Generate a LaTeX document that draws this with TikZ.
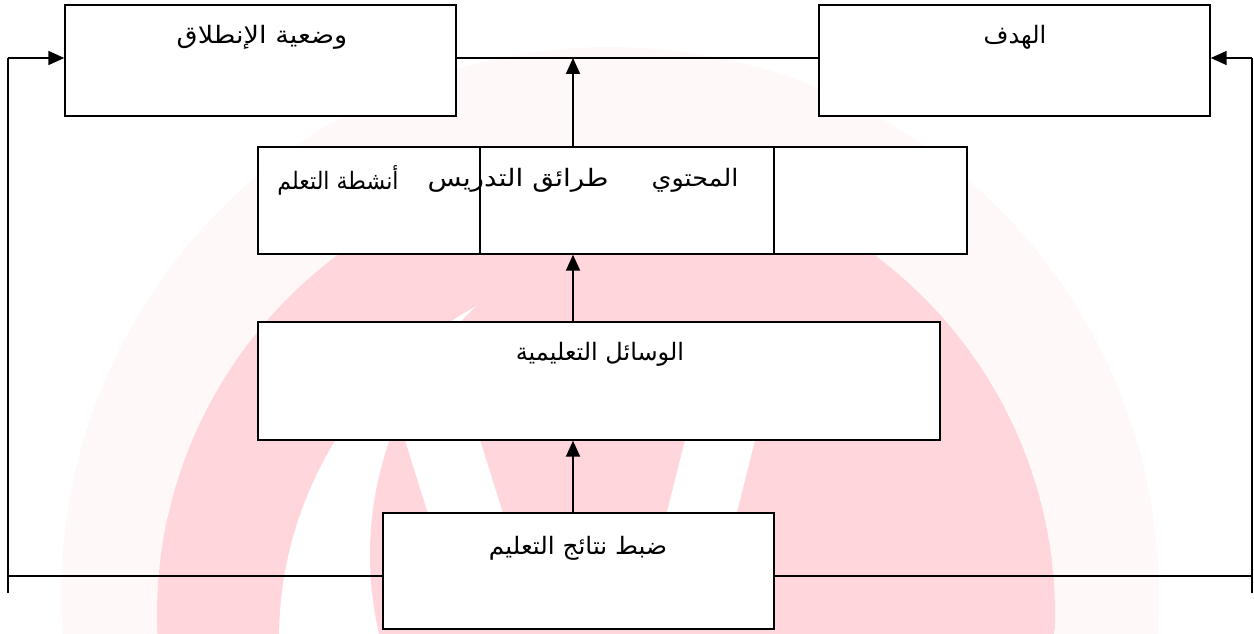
\documentclass[tikz,border=0pt]{standalone}
\usepackage{fontspec}
\newfontfamily\arabicfont[Script=Arabic]{DejaVu Sans}
\TeXXeTstate=1
\usetikzlibrary{arrows.meta}
\definecolor{wmpink}{HTML}{FFD6DC}
\definecolor{wmpale}{HTML}{FEF9F8}
\begin{document}
\begin{tikzpicture}[x=1pt,y=-1pt,
  box/.style={draw=black,line width=1.4pt,fill=white,rectangle,inner sep=0pt},
  lbl/.style={font=\arabicfont\fontsize{24}{28}\selectfont,inner sep=0pt},
  conn/.style={line width=1.4pt},
  arr/.style={line width=2pt,-{Triangle[length=16pt,width=14pt]}}]
\useasboundingbox (0,0) rectangle (1254,634);
% faint watermark
\begin{scope}
  \clip (0,0) rectangle (1254,634);
  \fill[wmpale] (610,596) circle (549);
  \begin{scope}
    \clip (606,615) circle (449);
    \fill[wmpink] (606,615) circle (449);
    \fill[white] (660,640) circle (381);
    \fill[wmpink] (715,555) circle (345);
    \fill[white] (405,440) -- (480,440) -- (505,520) -- (430,520) -- cycle;
    \fill[white] (685,440) -- (755,440) -- (735,520) -- (665,520) -- cycle;
  \end{scope}
\end{scope}
% boxes
\node[box,minimum width=391pt,minimum height=111pt] (start) at (260.5,60.5) {};
\node[box,minimum width=391pt,minimum height=111pt] (goal) at (1014.5,60.5) {};
\node[box,minimum width=709pt,minimum height=107pt] (mid) at (612.5,200.5) {};
\node[box,minimum width=682pt,minimum height=118pt] (means) at (599,381) {};
\node[box,minimum width=391pt,minimum height=116pt] (ctrl) at (578.5,571) {};
% dividers of the middle box
\coordinate (d1) at (480,0);
\coordinate (d2) at (774,0);
\draw[conn] (mid.north -| d1) -- (mid.south -| d1);
\draw[conn] (mid.north -| d2) -- (mid.south -| d2);
% labels
\node[lbl] (tstart) at (262,37) {\scalebox{1.13}[1]{\beginR وضعية الإنطلاق\endR}};
\node[lbl] (tgoal) at (1015,37) {\beginR الهدف\endR};
\node[lbl] (tact) at (338,180) {\scalebox{0.92}[1]{\beginR أنشطة التعلم\endR}};
\node[lbl] (tmeth) at (518,180) {\scalebox{1.16}[1]{\beginR طرائق التدريس\endR}};
\node[lbl] (tcont) at (695,180) {\scalebox{1.06}[1]{\beginR المحتوي\endR}};
\node[lbl] (tmeans) at (600,354) {\beginR الوسائل التعليمية\endR};
\node[lbl] (tctrl) at (578,548) {\scalebox{1.03}[1]{\beginR ضبط نتائج التعليم\endR}};
% connectors
\coordinate (j1) at (573,58);
\draw[conn] (start.east |- j1) -- (goal.west |- j1);
\draw[arr] (mid.north -| j1) -- (j1);
\draw[arr] (means.north -| j1) -- (mid.south -| j1);
\draw[arr] (ctrl.north -| j1) -- (means.south -| j1);
% feedback loops
\coordinate (tl) at (8,58);
\coordinate (bl) at (8,576);
\coordinate (blend) at (8,593);
\coordinate (tr) at (1252,58);
\coordinate (br) at (1252,576);
\coordinate (brend) at (1252,593);
\draw[conn] (ctrl.west |- bl) -- (bl);
\draw[conn] (ctrl.east |- br) -- (br);
\draw[conn] (blend) -- (tl);
\draw[conn] (brend) -- (tr);
\draw[arr,line width=1.6pt] (tl) -- (start.west |- tl);
\draw[arr,line width=1.6pt] (tr) -- (goal.east |- tr);
\end{tikzpicture}
\end{document}
